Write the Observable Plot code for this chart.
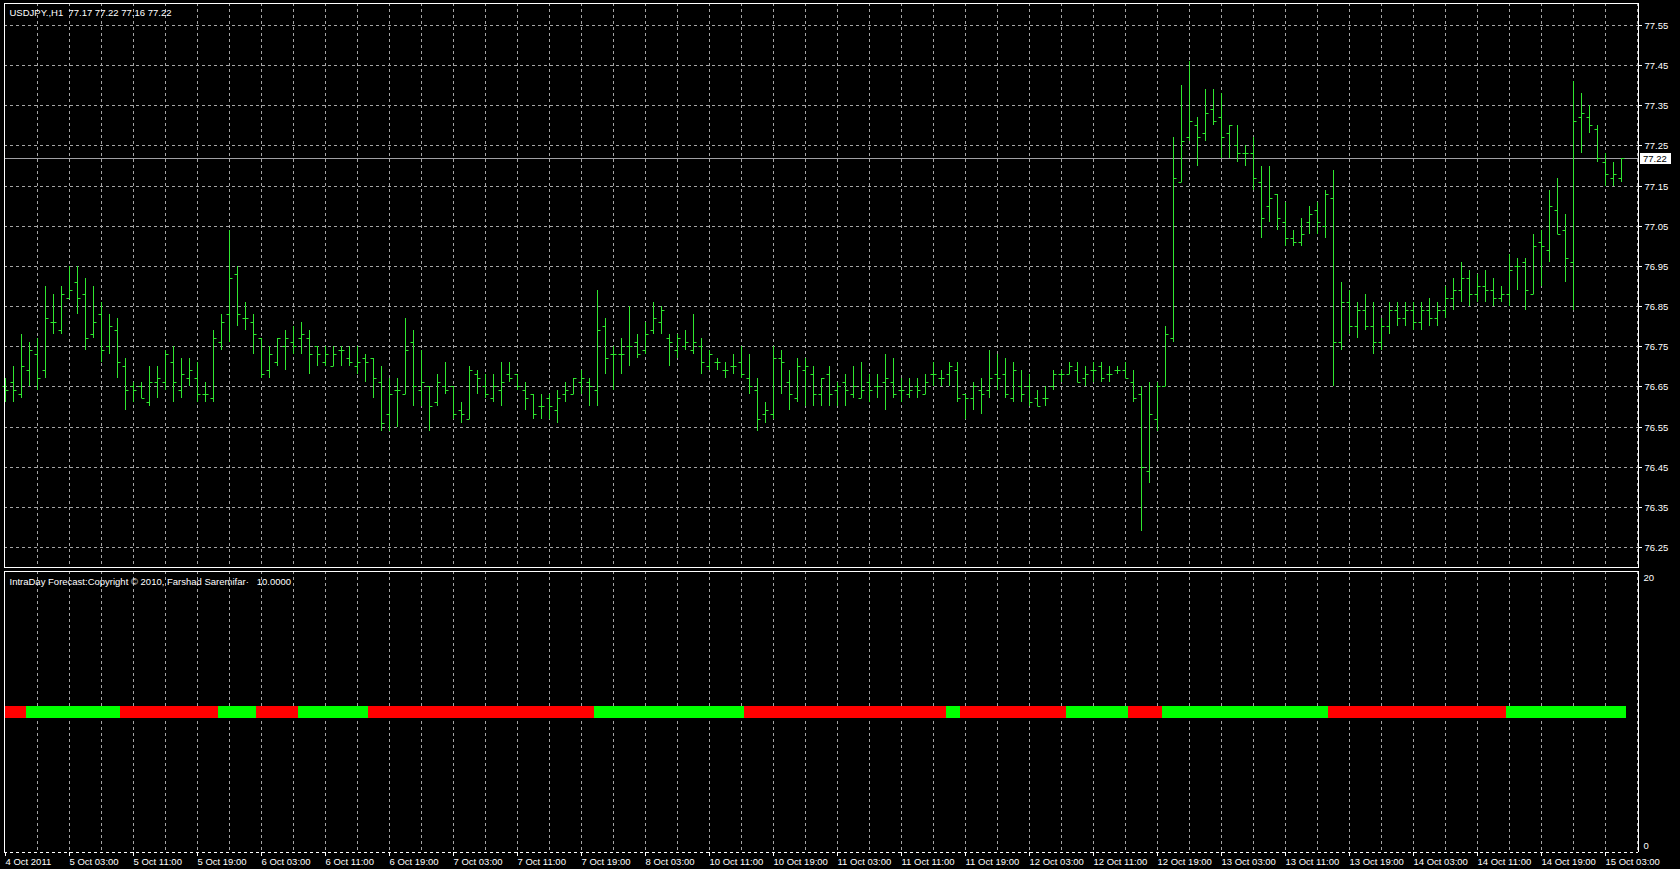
<!DOCTYPE html>
<html><head><meta charset="utf-8">
<script src="https://cdn.jsdelivr.net/npm/d3@7"></script>
<script src="https://cdn.jsdelivr.net/npm/@observablehq/plot@0.6"></script>
<style>
html,body{margin:0;padding:0;background:#000;}
#chart{width:1680px;height:869px;overflow:hidden;background:#000;}
#chart svg{display:block}
</style></head><body><div id="chart"></div>
<script>
// ---------- data ----------
const headerText = "USDJPY.,H1  77.17 77.22 77.16 77.22";
const indicatorText = "IntraDay Forecast:Copyright \u00A9 2010, Farshad Saremifar\u00B7   10.0000";
const opens = [
76.65,76.66,76.63,76.69,76.73,76.69,76.81,76.79,76.87,76.91,76.88,76.78,76.83,76.75,76.79,76.70,76.65,76.65,76.61,76.66,
76.66,76.71,76.64,76.67,76.67,76.63,76.62,76.76,76.83,76.93,76.82,76.81,76.77,76.69,76.71,76.75,76.76,76.77,76.77,76.75,
76.71,76.70,76.74,76.72,76.70,76.72,76.72,76.66,76.58,76.64,76.63,76.76,76.64,76.65,76.61,76.65,76.65,76.59,76.57,76.68,
76.65,76.62,76.64,76.68,76.68,76.64,76.63,76.60,76.62,76.59,76.63,76.63,76.66,76.66,76.64,76.80,76.73,76.73,76.75,76.76,
76.74,76.79,76.81,76.77,76.74,76.75,76.74,76.75,76.70,76.71,76.69,76.70,76.71,76.67,76.64,76.58,76.58,76.72,76.66,76.62,
76.69,76.68,76.63,76.68,76.64,76.66,76.63,76.62,76.66,76.65,76.66,76.66,76.64,76.63,76.65,76.63,76.68,76.67,76.68,76.69,
76.63,76.62,76.64,76.64,76.68,76.68,76.62,76.65,76.65,76.62,76.62,76.65,76.68,76.68,76.69,76.67,76.69,76.70,76.68,76.69,
76.69,76.66,76.63,76.44,76.57,76.65,76.77,77.16,77.27,77.30,77.28,77.34,77.32,77.28,77.25,77.23,77.23,77.16,77.10,77.13,
77.06,77.02,77.01,77.06,77.09,77.05,77.12,76.76,76.86,76.80,76.84,76.80,76.76,76.80,76.84,76.82,76.84,76.81,76.84,76.82,
76.84,76.87,76.89,76.92,76.88,76.90,76.89,76.87,76.88,76.95,76.96,76.88,77.01,76.99,77.09,77.04,76.96,77.32,77.32,77.29,
77.21,77.17,77.17];
const highs = [
76.67,76.70,76.78,76.76,76.77,76.90,76.88,76.90,76.95,76.95,76.92,76.90,76.86,76.83,76.82,76.72,76.66,76.66,76.70,76.70,
76.74,76.75,76.72,76.72,76.71,76.66,76.79,76.83,77.04,76.95,76.86,76.83,76.77,76.75,76.77,76.79,76.80,76.81,76.79,76.75,
76.75,76.75,76.75,76.75,76.75,76.73,76.72,76.70,76.67,76.67,76.82,76.79,76.74,76.65,76.68,76.71,76.65,76.61,76.70,76.69,
76.68,76.68,76.71,76.71,76.68,76.66,76.63,76.63,76.63,76.64,76.66,76.67,76.69,76.67,76.89,76.82,76.75,76.77,76.85,76.78,
76.81,76.86,76.85,76.78,76.78,76.79,76.83,76.77,76.74,76.72,76.71,76.73,76.75,76.73,76.67,76.61,76.75,76.74,76.69,76.72,
76.72,76.70,76.67,76.70,76.66,76.68,76.70,76.71,76.68,76.68,76.73,76.72,76.67,76.67,76.67,76.68,76.71,76.69,76.71,76.71,
76.63,76.66,76.67,76.74,76.73,76.72,76.71,76.69,76.68,76.64,76.65,76.69,76.69,76.71,76.71,76.70,76.71,76.71,76.70,76.70,
76.71,76.69,76.65,76.66,76.66,76.80,77.27,77.40,77.46,77.32,77.39,77.39,77.38,77.30,77.30,77.25,77.27,77.20,77.20,77.13,
77.11,77.04,77.07,77.10,77.11,77.14,77.19,76.91,76.89,76.86,76.88,76.86,76.82,76.86,76.86,76.86,76.86,76.86,76.87,76.86,
76.90,76.92,76.96,76.94,76.93,76.94,76.92,76.90,76.98,76.97,76.97,77.03,77.04,77.14,77.17,77.08,77.41,77.38,77.35,77.30,
77.23,77.21,77.22];
const lows = [
76.61,76.61,76.62,76.65,76.64,76.67,76.78,76.78,76.87,76.83,76.74,76.77,76.71,76.73,76.67,76.59,76.61,76.62,76.60,76.62,
76.64,76.61,76.62,76.65,76.61,76.61,76.61,76.74,76.76,76.80,76.79,76.73,76.67,76.67,76.70,76.69,76.73,76.73,76.68,76.70,
76.70,76.70,76.70,76.70,76.68,76.66,76.62,76.54,76.54,76.55,76.63,76.60,76.60,76.54,76.60,76.63,76.57,76.56,76.57,76.63,
76.62,76.61,76.60,76.66,76.64,76.59,76.57,76.57,76.57,76.56,76.61,76.63,76.63,76.60,76.60,76.68,76.64,76.68,76.70,76.72,
76.73,76.78,76.78,76.70,76.72,76.74,76.73,76.68,76.69,76.69,76.67,76.68,76.67,76.63,76.54,76.56,76.57,76.63,76.59,76.61,
76.60,76.60,76.60,76.60,76.60,76.60,76.62,76.62,76.61,76.62,76.59,76.62,76.61,76.62,76.62,76.63,76.65,76.65,76.65,76.61,
76.57,76.59,76.58,76.62,76.64,76.62,76.61,76.61,76.60,76.60,76.60,76.64,76.66,76.68,76.66,76.65,76.66,76.66,76.66,76.68,
76.67,76.61,76.29,76.41,76.54,76.65,76.76,77.16,77.26,77.20,77.26,77.30,77.22,77.22,77.21,77.20,77.14,77.02,77.06,77.04,
77.00,77.00,77.00,77.03,77.03,77.02,76.65,76.74,76.78,76.77,76.79,76.73,76.74,76.78,76.80,76.80,76.79,76.79,76.80,76.80,
76.82,76.84,76.86,76.85,76.86,76.86,76.85,76.86,76.85,76.89,76.84,76.88,76.90,76.96,77.03,76.91,76.84,77.23,77.28,77.21,
77.15,77.15,77.16];
const closes = [
76.64,76.64,76.70,76.74,76.67,76.82,76.81,76.88,76.89,76.87,76.77,76.81,76.74,76.80,76.71,76.64,76.64,76.62,76.66,76.67,
76.73,76.66,76.68,76.69,76.63,76.63,76.77,76.81,76.92,76.83,76.82,76.78,76.68,76.73,76.77,76.77,76.75,76.78,76.73,76.73,
76.73,76.73,76.74,76.71,76.71,76.71,76.67,76.56,76.63,76.64,76.74,76.65,76.66,76.60,76.66,76.64,76.58,76.58,76.69,76.67,
76.63,76.65,76.66,76.67,76.65,76.62,76.58,76.60,76.60,76.62,76.64,76.67,76.67,76.65,76.79,76.72,76.73,76.73,76.75,76.73,
76.78,76.82,76.84,76.76,76.77,76.76,76.76,76.71,76.73,76.71,76.69,76.70,76.68,76.65,76.57,76.59,76.72,76.71,76.63,76.70,
76.70,76.63,76.67,76.63,76.65,76.64,76.65,76.64,76.64,76.65,76.67,76.63,76.64,76.64,76.64,76.66,76.68,76.67,76.70,76.62,
76.62,76.65,76.63,76.67,76.67,76.63,76.69,76.63,76.61,76.60,76.62,76.68,76.68,76.70,76.66,76.68,76.69,76.67,76.68,76.69,
76.67,76.62,76.45,76.58,76.65,76.78,77.17,77.26,77.31,77.27,77.33,77.31,77.27,77.30,77.23,77.23,77.17,77.07,77.12,77.07,
77.02,77.01,77.03,77.08,77.06,77.13,76.76,76.86,76.80,76.84,76.80,76.76,76.80,76.84,76.82,76.84,76.81,76.84,76.82,76.84,
76.87,76.89,76.92,76.88,76.90,76.89,76.87,76.88,76.94,76.95,76.89,77.00,77.00,77.10,77.03,76.97,77.31,77.33,77.30,77.22,
77.18,77.18,77.22];
// forecast indicator: runs of [direction, number of bars]
const signalRuns = [["down",3],["up",12],["down",12],["up",5],["down",5],["up",9],["down",28],["up",19],["down",25],
  ["up",2],["down",13],["up",8],["down",4],["up",21],["down",22],["up",15]];
const indicatorValue = 10;
const indicatorTicks = [0, 20];
const priceTicks = [77.55,77.45,77.35,77.25,77.15,77.05,76.95,76.85,76.75,76.65,76.55,76.45,76.35,76.25];
const timeLabels = ["4 Oct 2011","5 Oct 03:00","5 Oct 11:00","5 Oct 19:00","6 Oct 03:00","6 Oct 11:00","6 Oct 19:00",
  "7 Oct 03:00","7 Oct 11:00","7 Oct 19:00","8 Oct 03:00","10 Oct 11:00","10 Oct 19:00","11 Oct 03:00","11 Oct 11:00",
  "11 Oct 19:00","12 Oct 03:00","12 Oct 11:00","12 Oct 19:00","13 Oct 03:00","13 Oct 11:00","13 Oct 19:00",
  "14 Oct 03:00","14 Oct 11:00","14 Oct 19:00","15 Oct 03:00"];
const barsPerLabel = 8;
const barsPerGrid = 4;

// ---------- derived tables ----------
const bars = opens.map((o, i) => ({i, o, h: highs[i], l: lows[i], c: closes[i]}));
const sig = [];
signalRuns.forEach(([dir, n]) => { for (let k = 0; k < n; k++) sig.push({i: sig.length, dir, v: indicatorValue}); });
const nBars = bars.length;
const labelIdx = timeLabels.map((_, k) => k * barsPerLabel);
const gridIdx = d3.range(barsPerGrid, nBars + 2, barsPerGrid);
const lastClose = closes[closes.length - 1];

const W = 1680;
const GREEN = "#2fe62f", UP = "#00ff00", DOWN = "#ff0000", GRID = "#a4a4a4";
const FONT = "'Liberation Sans', Arial, sans-serif";
const xDomain = [-0.125, 204.125];
const dash = "3,3";

const main = Plot.plot({
  width: W, height: 569,
  marginLeft: 4, marginRight: 42, marginTop: 3, marginBottom: 2,
  style: {background: "#000", color: "#fff", fontFamily: FONT, fontSize: "9.5px", overflow: "visible"},
  x: {domain: xDomain, axis: null},
  y: {domain: [76.2002, 77.6048], round: true, axis: null},
  marks: [
    Plot.ruleY(priceTicks, {stroke: GRID, strokeDasharray: dash}),
    Plot.ruleX(gridIdx, {stroke: GRID, strokeDasharray: dash}),
    Plot.ruleY([lastClose], {stroke: "#a0a0a4"}),
    Plot.ruleX(bars, {x: "i", y1: "l", y2: "h", stroke: GREEN}),
    Plot.link(bars, {x1: d => d.i - 0.375, x2: "i", y1: "o", y2: "o", stroke: GREEN}),
    Plot.link(bars, {x1: "i", x2: d => d.i + 0.375, y1: "c", y2: "c", stroke: GREEN}),
    Plot.frame({stroke: "#fff"}),
    Plot.axisY(priceTicks, {anchor: "right", tickSize: 3, tickPadding: 3, tickFormat: d => d.toFixed(2), color: "#fff", fontSize: "9.5px"}),
    Plot.text([headerText], {frameAnchor: "top-left", dx: 5, dy: 9, lineAnchor: "middle", textAnchor: "start", fill: "#fff"})
  ]
});

const sub = Plot.plot({
  width: W, height: 300,
  marginLeft: 4, marginRight: 42, marginTop: 2, marginBottom: 17,
  style: {background: "#000", color: "#fff", fontFamily: FONT, fontSize: "9.5px", overflow: "visible"},
  x: {domain: xDomain, axis: null},
  y: {domain: [0, 20], axis: null},
  marks: [
    Plot.ruleX(gridIdx, {stroke: GRID, strokeDasharray: dash}),
    Plot.link(sig.filter(d => d.dir === "up"), {x1: d => d.i - 0.5, x2: d => d.i + 0.5, y1: "v", y2: "v",
      stroke: UP, strokeWidth: 12, strokeLinecap: "butt", shapeRendering: "crispEdges", clip: true}),
    Plot.link(sig.filter(d => d.dir === "down"), {x1: d => d.i - 0.75, x2: d => d.i + 0.5, y1: "v", y2: "v",
      stroke: DOWN, strokeWidth: 12, strokeLinecap: "butt", shapeRendering: "crispEdges", clip: true}),
    Plot.ruleY([indicatorTicks[1]], {stroke: "#fff"}),
    Plot.ruleY([indicatorTicks[0]], {stroke: "#fff", strokeDasharray: dash}),
    Plot.ruleX([xDomain[0], xDomain[1]], {stroke: "#fff"}),
    Plot.text([indicatorTicks[1]], {y: d => d, frameAnchor: "right", dx: 5, dy: 6, textAnchor: "start", fill: "#fff"}),
    Plot.text([indicatorTicks[0]], {y: d => d, frameAnchor: "right", dx: 5, dy: -7, textAnchor: "start", fill: "#fff"}),
    Plot.axisX(labelIdx, {anchor: "bottom", tickSize: 4, tickPadding: 2, tickFormat: d => timeLabels[d / barsPerLabel],
      textAnchor: "start", dx: 0, color: "#fff", fontSize: "9.5px"}),
    Plot.text([indicatorText], {frameAnchor: "top-left", dx: 5, dy: 10, lineAnchor: "middle", textAnchor: "start", fill: "#fff"})
  ]
});

const root = document.getElementById("chart");
root.appendChild(main);
root.appendChild(sub);

// current price marker (box + label) at the last close, positioned with the plot's own y scale
const ys = Math.round(main.scale("y").apply(lastClose));
const svgMain = d3.select(main);
const fx = W - 42 + 2;
svgMain.append("rect").attr("x", fx).attr("y", ys - 5).attr("width", 31).attr("height", 11).attr("fill", "#fff");
svgMain.append("text").attr("x", fx + 3).attr("y", ys + 0.5).attr("dy", "0.35em").attr("text-anchor", "start")
  .attr("fill", "#000").attr("font-family", FONT).attr("font-size", "9.5px").text(lastClose.toFixed(2));
</script>
</body></html>
